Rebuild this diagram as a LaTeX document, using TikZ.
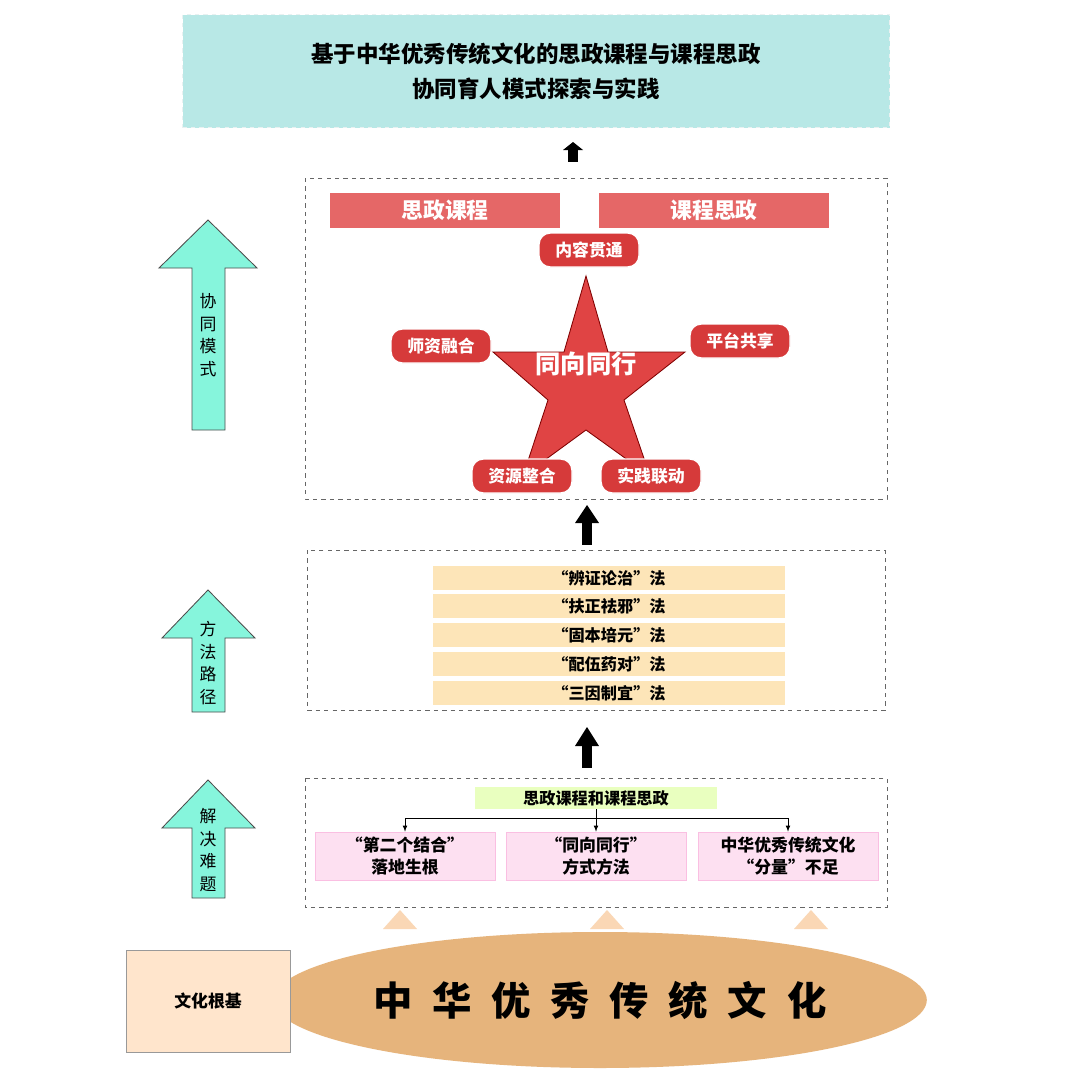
\documentclass[tikz,border=0pt]{standalone}
\usepackage{fontspec}
\usetikzlibrary{shapes.geometric}
\setmainfont{Noto Sans CJK SC}
\definecolor{starred}{HTML}{E04444}
\definecolor{pillred}{HTML}{D63A3A}
\definecolor{cyanarr}{HTML}{86F5DC}
\definecolor{topcy}{HTML}{B8E8E6}
\definecolor{ellc}{HTML}{E6B47C}
\begin{document}
\begin{tikzpicture}[x=0.025cm,y=-0.025cm,
 dbox/.style={draw=black!60,dashed,line width=0.5pt},
 redbar/.style={fill=red!55!white!90!black,draw=none,text=white,font=\fontsize{15.5}{18}\selectfont\bfseries,minimum width=230*0.025cm,minimum height=35*0.025cm},
 pill/.style={fill=pillred,draw=white,line width=1pt,rounded corners=8pt,text=white,font=\fontsize{12}{14}\selectfont\bfseries,minimum width=100*0.025cm,minimum height=34*0.025cm,inner sep=1pt},
 ybar/.style={fill=yellow!25!orange!25!white,draw=none,font=\fontsize{11.5}{13}\selectfont\bfseries,minimum width=352*0.025cm,minimum height=24*0.025cm,inner sep=0pt},
 pbox/.style={fill=magenta!12,draw=magenta!25,font=\fontsize{12}{15}\selectfont\bfseries,minimum width=180*0.025cm,minimum height=48*0.025cm,align=center,inner sep=0pt},
 cyarr/.style={fill=cyanarr,draw=black!70,line width=0.6pt},
 vtxt/.style={font=\fontsize{12}{16}\selectfont,align=center}]
\useasboundingbox (0,0) rectangle (1080,1086);
\fill[white] (0,0) rectangle (1080,1086);
% top
\node[fill=topcy,draw=topcy!80!black!20!white,dashed,minimum width=707*0.025cm,minimum height=113*0.025cm,align=center,font=\fontsize{16}{25}\selectfont\bfseries] (top) at (536,71) {基于中华优秀传统文化的思政课程与课程思政\\协同育人模式探索与实践};
\fill (568,162) rectangle (578,150); \fill (563,150) -- (573,142) -- (583,150) -- cycle;
% box 2
\draw[dbox] (305,178) rectangle (887,499);
\node[redbar] (sz1) at (445,210) {思政课程};
\node[redbar] (sz2) at (714,210) {课程思政};
\draw[fill=starred,draw=red!50!black,line width=0.6pt]
 (586,276) -- (608,352) -- (685,352) -- (624,400) -- (650,476) -- (586,430) -- (523,476) -- (548,400) -- (493,352) -- (564,352) -- cycle;
\node[text=white,font=\fontsize{18}{20}\selectfont\bfseries] (star) at (586,364) {同向同行};
\node[pill] (p1) at (589,250) {内容贯通};
\node[pill] (p2) at (441,346) {师资融合};
\node[pill] (p3) at (740,341) {平台共享};
\node[pill] (p4) at (522,476) {资源整合};
\node[pill] (p5) at (651,476) {实践联动};
% arrow
\fill (582,545) rectangle (592,522); \fill (575,523) -- (587,505) -- (599,523) -- cycle;
% box 3
\draw[dbox] (307,550) rectangle (885,710);
\node[ybar] (y1) at (609,578) {“辨证论治”法};
\node[ybar] (y2) at (609,606) {“扶正祛邪”法};
\node[ybar] (y3) at (609,635) {“固本培元”法};
\node[ybar] (y4) at (609,664) {“配伍药对”法};
\node[ybar] (y5) at (609,693) {“三因制宜”法};
\fill (582,768) rectangle (592,745); \fill (575,746) -- (587,727) -- (599,746) -- cycle;
% box 4
\draw[dbox] (305,778) rectangle (887,907);
\node[fill=green!35!yellow!25!white,minimum width=242*0.025cm,minimum height=22*0.025cm,inner sep=0pt,font=\fontsize{11.5}{14}\selectfont\bfseries] (g) at (596,798) {思政课程和课程思政};
\node[pbox] (q1) at (405,856) {“第二个结合”\\落地生根};
\node[pbox] (q2) at (596,856) {“同向同行”\\方式方法};
\node[pbox] (q3) at (788,856) {中华优秀传统文化\\“分量”不足};
\coordinate (h) at (596,818);
\draw[line width=0.5pt] (g.south) -- (h);
\draw[line width=0.5pt,-latex] (h) -| (q1.north);
\draw[line width=0.5pt,-latex] (h) -- (q2.north);
\draw[line width=0.5pt,-latex] (h) -| (q3.north);
% triangles
\foreach \x in {400,607,811} \fill[orange!25!white!92!brown] (\x-17,929) -- (\x,910) -- (\x+17,929) -- cycle;
% ellipse
\node[ellipse,fill=ellc,minimum width=570*0.025cm,minimum height=136*0.025cm,font=\fontsize{28}{32}\selectfont\bfseries] (cul) at (600,1000) {中\hspace{0.5em}华\hspace{0.5em}优\hspace{0.5em}秀\hspace{0.5em}传\hspace{0.5em}统\hspace{0.5em}文\hspace{0.5em}化};
\node[fill=orange!20!white,draw=black!40,minimum width=164*0.025cm,minimum height=102*0.025cm,font=\fontsize{12}{14}\selectfont\bfseries] (root) at (208,1001) {文化根基};
% left arrows
\draw[cyarr] (192,430) -- (192,268) -- (159,268) -- (208,220) -- (257,268) -- (225,268) -- (225,430) -- cycle;
\node[vtxt] (l1) at (208,335) {协\\同\\模\\式};
\draw[cyarr] (192,712) -- (192,638) -- (162,638) -- (208,590) -- (255,638) -- (225,638) -- (225,712) -- cycle;
\node[vtxt] (l2) at (208,663) {方\\法\\路\\径};
\draw[cyarr] (192,898) -- (192,828) -- (162,828) -- (208,780) -- (255,828) -- (225,828) -- (225,898) -- cycle;
\node[vtxt] (l3) at (208,850) {解\\决\\难\\题};
\end{tikzpicture}
\end{document}
